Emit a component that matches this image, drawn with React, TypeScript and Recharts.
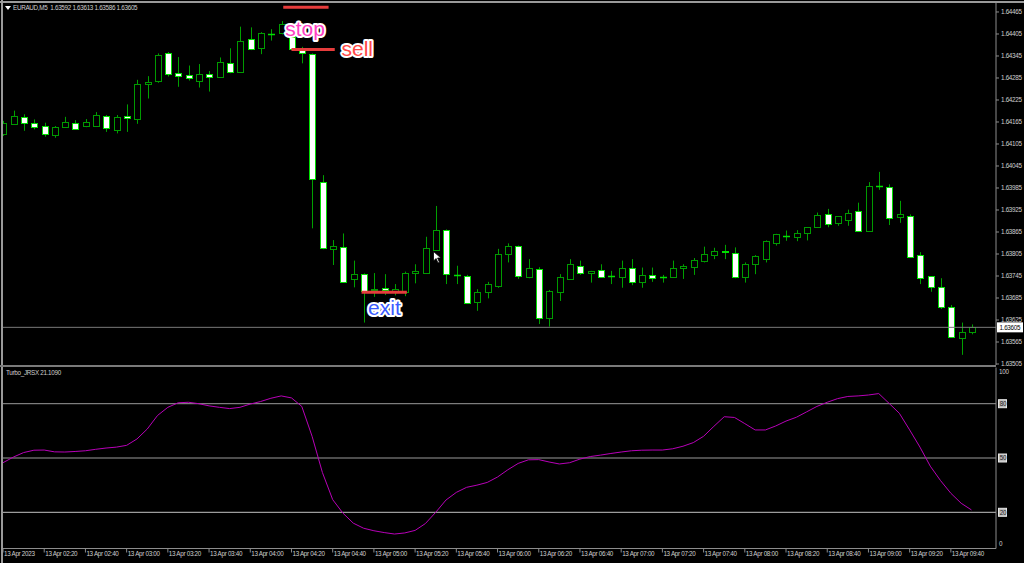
import React from 'react'
import { ComposedChart, Bar, Line, XAxis, YAxis, ReferenceLine } from 'recharts'

// EURAUD M5, 13 Apr 2023 02:00 .. 09:50, one entry per bar
const OPEN = [
  1.64131, 1.64159, 1.64178, 1.64163, 1.64154, 1.6413, 1.64152, 1.64163, 1.64154, 1.64153,
  1.64182, 1.64143, 1.64182, 1.64173, 1.64269, 1.64278, 1.64352, 1.64298, 1.64292, 1.64278,
  1.64296, 1.64289, 1.64325, 1.64301, 1.64391, 1.64366, 1.64404, 1.64407, 1.64398, 1.64361,
  1.6435, 1.64002, 1.63818, 1.63823, 1.63736, 1.6375, 1.63707, 1.63713, 1.63705, 1.63702,
  1.63752, 1.63752, 1.63816, 1.6387, 1.63747, 1.63745, 1.63673, 1.63701, 1.63718, 1.63804,
  1.63827, 1.63743, 1.63764, 1.63631, 1.63702, 1.63737, 1.63772, 1.63752, 1.63762, 1.63744,
  1.63743, 1.63766, 1.63729, 1.63748, 1.63741, 1.63741, 1.63766, 1.63769, 1.63786, 1.63803,
  1.63813, 1.63808, 1.63741, 1.63777, 1.63791, 1.63836, 1.63853, 1.63852, 1.63863, 1.63879,
  1.63913, 1.6389, 1.63898, 1.63922, 1.63869, 1.6399, 1.63988, 1.63905, 1.63909, 1.63801,
  1.63744, 1.63715, 1.6366, 1.63577, 1.63592,
]
const HIGH = [
  1.64168, 1.64196, 1.64186, 1.64172, 1.64163, 1.64154, 1.64179, 1.6417, 1.64173, 1.64192,
  1.64184, 1.64184, 1.64213, 1.6428, 1.6429, 1.64352, 1.64356, 1.64342, 1.64319, 1.64323,
  1.64304, 1.64341, 1.64366, 1.64425, 1.64423, 1.6441, 1.64418, 1.6444, 1.64421, 1.6437,
  1.64352, 1.6402, 1.63843, 1.63861, 1.63787, 1.63752, 1.63753, 1.6375, 1.63723, 1.63757,
  1.63777, 1.63852, 1.63936, 1.63872, 1.63773, 1.63748, 1.63709, 1.63729, 1.63819, 1.63834,
  1.63828, 1.63791, 1.63769, 1.63707, 1.6375, 1.63791, 1.63787, 1.63759, 1.63777, 1.63759,
  1.63787, 1.63791, 1.63768, 1.63768, 1.63748, 1.63787, 1.63777, 1.63794, 1.63825, 1.63822,
  1.6383, 1.63823, 1.63782, 1.63802, 1.63842, 1.6386, 1.63869, 1.6387, 1.63878, 1.63918,
  1.63928, 1.63908, 1.63926, 1.63945, 1.64001, 1.64029, 1.63995, 1.6395, 1.63913, 1.6381,
  1.63745, 1.63739, 1.63666, 1.63618, 1.63613,
]
const LOW = [
  1.64127, 1.64158, 1.64141, 1.64145, 1.64125, 1.64122, 1.64151, 1.64145, 1.64151, 1.64153,
  1.64138, 1.64134, 1.64138, 1.6416, 1.64229, 1.64272, 1.64289, 1.64261, 1.64278, 1.64259,
  1.64248, 1.64287, 1.64298, 1.64299, 1.64361, 1.6435, 1.64387, 1.64404, 1.64361, 1.64325,
  1.63875, 1.63818, 1.63775, 1.63729, 1.63714, 1.63618, 1.63688, 1.63693, 1.63692, 1.6369,
  1.63725, 1.63751, 1.63814, 1.63723, 1.63723, 1.63669, 1.6365, 1.63684, 1.63713, 1.63782,
  1.63737, 1.63739, 1.63614, 1.63607, 1.63677, 1.63736, 1.63748, 1.63727, 1.63741, 1.63723,
  1.63713, 1.6372, 1.63713, 1.63729, 1.63727, 1.6374, 1.63737, 1.63748, 1.63782, 1.63791,
  1.63791, 1.63739, 1.63727, 1.6375, 1.63782, 1.63828, 1.63841, 1.6384, 1.63842, 1.63877,
  1.63878, 1.63882, 1.63882, 1.63868, 1.63867, 1.6398, 1.63884, 1.6389, 1.63795, 1.63723,
  1.63702, 1.63655, 1.63578, 1.6353, 1.63586,
]
const CLOSE = [
  1.64161, 1.64181, 1.64163, 1.64152, 1.64131, 1.64151, 1.64164, 1.64147, 1.64164, 1.64183,
  1.64148, 1.64179, 1.64177, 1.64268, 1.64274, 1.64349, 1.64295, 1.64291, 1.64284, 1.64296,
  1.64289, 1.64329, 1.64301, 1.64387, 1.64363, 1.64408, 1.64405, 1.64431, 1.64363, 1.64352,
  1.6401, 1.63821, 1.63828, 1.63729, 1.6375, 1.63705, 1.6371, 1.63707, 1.63709, 1.63754,
  1.63759, 1.63821, 1.6387, 1.6375, 1.63748, 1.63671, 1.63701, 1.63722, 1.63804, 1.63828,
  1.63746, 1.63768, 1.6363, 1.63704, 1.63741, 1.63777, 1.63752, 1.63758, 1.63742, 1.63744,
  1.63768, 1.63729, 1.63749, 1.6374, 1.63742, 1.63766, 1.63772, 1.63789, 1.63804, 1.63812,
  1.6381, 1.63743, 1.63777, 1.63799, 1.6384, 1.63859, 1.63853, 1.63862, 1.63878, 1.63911,
  1.63887, 1.63908, 1.63917, 1.63869, 1.63991, 1.63991, 1.63904, 1.63914, 1.63798, 1.6374,
  1.63716, 1.6366, 1.63579, 1.63591, 1.63605,
]
// Turbo_JRSX(21) values per bar
const JRSX = [
  47.4, 50.5, 53, 54.3, 54.4, 53.4, 53.3, 53.6, 54, 54.8,
  55.5, 56, 57, 60.5, 66, 73.5, 78, 80.5, 80.8, 80,
  78.8, 78, 77.3, 78, 79.8, 81.2, 83, 84.3, 83.2, 78.5,
  62, 42, 27, 19.5, 14, 11.2, 9.8, 8.8, 8, 8.6,
  10, 13.8, 20, 26.8, 31, 33.8, 35, 36.5, 39.5, 43.5,
  47, 49, 49.1, 47.8, 46.7, 47.4, 49.4, 50.8, 51.6, 52.5,
  53.3, 54, 54.3, 54.4, 54.4, 55.1, 56.5, 58.5, 62, 67.5,
  72.8, 72.4, 69, 65.5, 65.5, 67.7, 70.4, 72.5, 75.5, 78.5,
  80.8, 82.8, 84, 84.3, 84.8, 85.6, 80.2, 74.7, 65.5, 56,
  45.5, 37.5, 30.5, 25, 21.3,
]

const PRICE_TICKS = [
  1.63505, 1.63565, 1.63625, 1.63685, 1.63745, 1.63805, 1.63865, 1.63925, 1.63985,
  1.64045, 1.64105, 1.64165, 1.64225, 1.64285, 1.64345, 1.64405, 1.64465,
]
const LEVELS = [80, 50, 20]
const OSC_TICKS = [0, 20, 50, 80, 100]
const TIME_TICKS = [0, 4, 8, 12, 16, 20, 24, 28, 32, 36, 40, 44, 48, 52, 56, 60, 64, 68, 72, 76, 80, 84, 88, 92]
const TIME_LABELS = [
  '13 Apr 2023', '13 Apr 02:20', '13 Apr 02:40', '13 Apr 03:00', '13 Apr 03:20', '13 Apr 03:40',
  '13 Apr 04:00', '13 Apr 04:20', '13 Apr 04:40', '13 Apr 05:00', '13 Apr 05:20', '13 Apr 05:40',
  '13 Apr 06:00', '13 Apr 06:20', '13 Apr 06:40', '13 Apr 07:00', '13 Apr 07:20', '13 Apr 07:40',
  '13 Apr 08:00', '13 Apr 08:20', '13 Apr 08:40', '13 Apr 09:00', '13 Apr 09:20', '13 Apr 09:40',
]
const LAST_PRICE = 1.63605

// hand-drawn trade marks: bar range and price level
const NOTES = [
  { text: 'stop', from: 27.2, to: 31.6, price: 1.64478, color: '#ff3fc4', dx: 2, dy: 28.5 },
  { text: 'sell', from: 28.0, to: 32.2, price: 1.64363, color: '#ff4848', dx: 50, dy: 7 },
  { text: 'exit', from: 34.8, to: 39.2, price: 1.63701, color: '#3b5bff', dx: 6.5, dy: 22.5 },
]

const data = OPEN.map((o, i) => ({
  i,
  open: o,
  high: HIGH[i],
  low: LOW[i],
  close: CLOSE[i],
  jrsx: JRSX[i],
}))

const FONT = "'Liberation Sans', Arial, sans-serif"
const SMALL = { fontSize: 6.3, letterSpacing: -0.3, fontFamily: FONT }
const AXIS = '#8c8c8c'
const TEXT = '#cfcfcf'
const X_DOMAIN: [number, number] = [0, 96.38]

const Candle = (props: any) => {
  const { x, y, width, height, payload } = props
  if (!payload) return null
  const { open, close, high, low } = payload
  const span = high - low
  const toY = (v: number) => (span > 0 ? y + ((high - v) / span) * height : y)
  const cx = Math.round(x + width / 2) + 0.5
  const up = close >= open
  const top = Math.round(toY(Math.max(open, close))) + 0.5
  const bottom = Math.round(toY(Math.min(open, close))) + 0.5
  return (
    <g>
      <line x1={cx} x2={cx} y1={y} y2={y + height} stroke="#00a000" />
      {bottom - top < 1 ? (
        <line x1={cx - 3.5} x2={cx + 3.5} y1={top} y2={top} stroke="#00e000" strokeWidth={1.5} />
      ) : (
        <rect
          x={cx - 3}
          y={top}
          width={6}
          height={bottom - top}
          fill={up ? '#000000' : '#ffffff'}
          stroke={up ? '#009a00' : '#00e000'}
        />
      )}
    </g>
  )
}

const LastPriceLabel = (props: any) => {
  const { viewBox } = props
  const x = viewBox.x + viewBox.width + 1
  return (
    <g>
      <rect x={x} y={viewBox.y - 5} width={26} height={10} fill="#ffffff" />
      <text x={x + 2.5} y={viewBox.y + 2.3} {...SMALL} fill="#000000">
        {LAST_PRICE.toFixed(5)}
      </text>
    </g>
  )
}

const noteLabel = (n: (typeof NOTES)[number]) => (props: any) => {
  const { viewBox } = props
  return (
    <text
      x={viewBox.x + n.dx}
      y={viewBox.y + n.dy}
      fontSize={21}
      fontFamily={FONT}
      fill={n.color}
      stroke="#ffffff"
      strokeWidth={4}
      strokeLinejoin="round"
      paintOrder="stroke"
    >
      {n.text}
    </text>
  )
}

const TimeTick = (props: any) => {
  const { x, y, payload } = props
  const label = TIME_LABELS[TIME_TICKS.indexOf(payload.value)]
  return (
    <text x={x + 1} y={y + 3.5} {...SMALL} fill={TEXT}>
      {label}
    </text>
  )
}

const OscTick = (props: any) => {
  const { x, y, payload } = props
  const v = payload.value
  if (v === 100 || v === 0) {
    return (
      <text x={x} y={v === 100 ? y + 6.5 : y - 2.5} {...SMALL} fill={TEXT}>
        {v}
      </text>
    )
  }
  return (
    <g>
      <rect x={x - 0.5} y={y - 4} width={8} height={8} fill="#bcbcbc" stroke="#e6e6e6" />
      <text x={x + 0.8} y={y + 2.3} {...SMALL} fill="#202020">
        {v}
      </text>
    </g>
  )
}

const App: React.FC = () => {
  return (
    <div
      style={{
        position: 'absolute',
        left: 0,
        top: 0,
        width: 1024,
        height: 563,
        background: '#000000',
        overflow: 'hidden',
        fontFamily: FONT,
      }}
    >
      <div style={{ position: 'absolute', top: 0 }}>
        <ComposedChart width={1024} height={367} data={data} margin={{ top: 3, right: 0, bottom: 2, left: 3 }}>
          <XAxis dataKey="i" type="number" domain={X_DOMAIN} allowDataOverflow hide />
          <YAxis
            orientation="right"
            width={28}
            domain={[1.635023, 1.644895]}
            allowDataOverflow
            ticks={PRICE_TICKS}
            interval={0}
            tickFormatter={(v: number) => v.toFixed(5)}
            tick={{ fill: TEXT, ...SMALL }}
            tickSize={3}
            tickMargin={2}
            axisLine={{ stroke: AXIS }}
            tickLine={{ stroke: AXIS }}
          />
          <ReferenceLine y={LAST_PRICE} stroke="#7a7a7a" label={LastPriceLabel} />
          <Bar
            dataKey={(d: any) => [d.low, d.high]}
            barSize={7}
            shape={Candle}
            isAnimationActive={false}
          />
          {NOTES.map((n) => (
            <ReferenceLine
              key={n.text}
              segment={[
                { x: n.from, y: n.price },
                { x: n.to, y: n.price },
              ]}
              stroke="#e63c3c"
              strokeWidth={3}
              label={noteLabel(n)}
            />
          ))}
        </ComposedChart>
      </div>

      <div style={{ position: 'absolute', top: 367 }}>
        <ComposedChart width={1024} height={196} data={data} margin={{ top: 0.5, right: 0, bottom: 0, left: 3 }}>
          <XAxis
            dataKey="i"
            type="number"
            domain={X_DOMAIN}
            allowDataOverflow
            ticks={TIME_TICKS}
            interval={0}
            height={14.5}
            tick={TimeTick}
            tickSize={4}
            tickMargin={0}
            axisLine={{ stroke: AXIS }}
            tickLine={{ stroke: AXIS }}
          />
          <YAxis
            orientation="right"
            width={28}
            domain={[0, 100]}
            ticks={OSC_TICKS}
            interval={0}
            tick={OscTick}
            tickSize={2}
            tickMargin={1}
            axisLine={{ stroke: AXIS }}
            tickLine={false}
          />
          {LEVELS.map((lv) => (
            <ReferenceLine key={lv} y={lv} stroke={lv === 20 ? '#c4c4c4' : '#9a9a9a'} />
          ))}
          <Line
            dataKey="jrsx"
            type="linear"
            stroke="#b800b8"
            strokeWidth={1}
            dot={false}
            isAnimationActive={false}
          />
        </ComposedChart>
      </div>

      {/* window frame and panel separator */}
      <div style={{ position: 'absolute', left: 0, top: 1, width: 1024, height: 2, background: '#9a9a9a' }} />
      <div style={{ position: 'absolute', left: 1, top: 0, width: 2, height: 563, background: '#9a9a9a' }} />
      <div style={{ position: 'absolute', left: 0, top: 365, width: 996, height: 2, background: '#7a7a7a' }} />

      {/* symbol header */}
      <svg style={{ position: 'absolute', left: 5, top: 6 }} width={6} height={4}>
        <polygon points="0,0 6,0 3,4" fill="#ffffff" />
      </svg>
      <div style={{ position: 'absolute', left: 13, top: 3, fontSize: 6.3, letterSpacing: -0.3, lineHeight: '10px', color: TEXT, whiteSpace: 'pre' }}>
        EURAUD,M5  1.63592 1.63613 1.63586 1.63605
      </div>
      <div style={{ position: 'absolute', left: 6, top: 368, fontSize: 6.3, letterSpacing: -0.3, lineHeight: '10px', color: TEXT, whiteSpace: 'pre' }}>
        Turbo_JRSX 21.1090
      </div>

      {/* mouse pointer */}
      <svg style={{ position: 'absolute', left: 433, top: 251 }} width={9} height={13}>
        <polygon points="0.5,0.5 0.5,10 3,7.5 5,12 6.5,11.3 4.6,7 8,7" fill="#ffffff" stroke="#000000" strokeWidth={0.8} />
      </svg>
    </div>
  )
}

export default App
